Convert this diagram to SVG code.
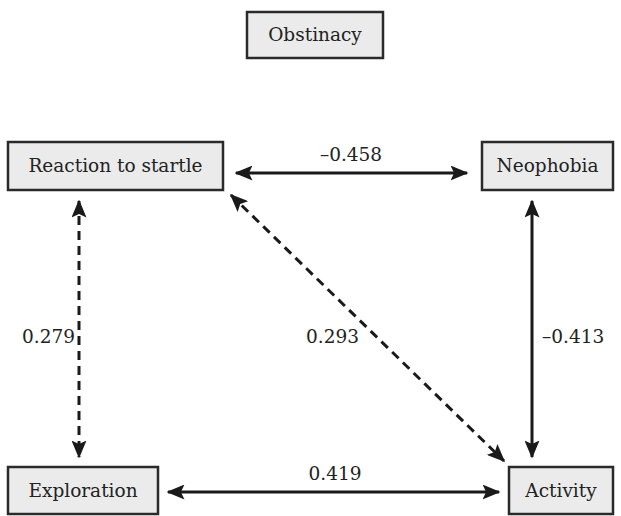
<svg xmlns="http://www.w3.org/2000/svg" width="621" height="516" viewBox="0 0 621 516">
<style>
.box{fill:#ebebeb;stroke:#2a2a2a;stroke-width:2.5}
.c{stroke:#1a1a1a;stroke-width:3;fill:none}
.d{stroke-dasharray:9 6}
</style>
<defs>
<marker id="ah" markerWidth="6" markerHeight="5" refX="5.5" refY="2.5" orient="auto-start-reverse" markerUnits="strokeWidth">
<path d="M0,0 L6,2.5 L0,5 L1.2,2.5 Z" fill="#1a1a1a"/>
</marker>
</defs>
<g font-family="'DejaVu Serif', serif" font-size="18.5" fill="#222">
<g id="obstinacy"><rect class="box" x="247" y="12" width="136" height="46"/><text text-anchor="middle" x="315" y="41">Obstinacy</text></g>
<g id="reaction"><rect class="box" x="8" y="142" width="215" height="48"/><text text-anchor="middle" x="115.5" y="172">Reaction to startle</text></g>
<g id="neophobia"><rect class="box" x="482" y="142" width="131" height="48"/><text text-anchor="middle" x="547.5" y="172">Neophobia</text></g>
<g id="exploration"><rect class="box" x="8" y="467" width="150" height="47"/><text text-anchor="middle" x="83" y="497">Exploration</text></g>
<g id="activity"><rect class="box" x="509" y="467" width="104" height="47"/><text text-anchor="middle" x="561" y="497">Activity</text></g>
<g id="connectors">
<line class="c" x1="236" y1="173" x2="467" y2="173" marker-start="url(#ah)" marker-end="url(#ah)"/>
<line class="c d" x1="79" y1="201" x2="79" y2="457" marker-start="url(#ah)" marker-end="url(#ah)"/>
<line class="c" x1="532" y1="201" x2="532" y2="457" marker-start="url(#ah)" marker-end="url(#ah)"/>
<line class="c d" x1="231" y1="195" x2="504" y2="461" marker-start="url(#ah)" marker-end="url(#ah)"/>
<line class="c" x1="168" y1="492" x2="499" y2="492" marker-start="url(#ah)" marker-end="url(#ah)"/>
<text text-anchor="middle" x="351" y="161">–0.458</text>
<text text-anchor="middle" x="335" y="480">0.419</text>
<text x="22" y="343">0.279</text>
<text x="306" y="343">0.293</text>
<text x="542" y="343">–0.413</text>
</g>
</g>
</svg>
